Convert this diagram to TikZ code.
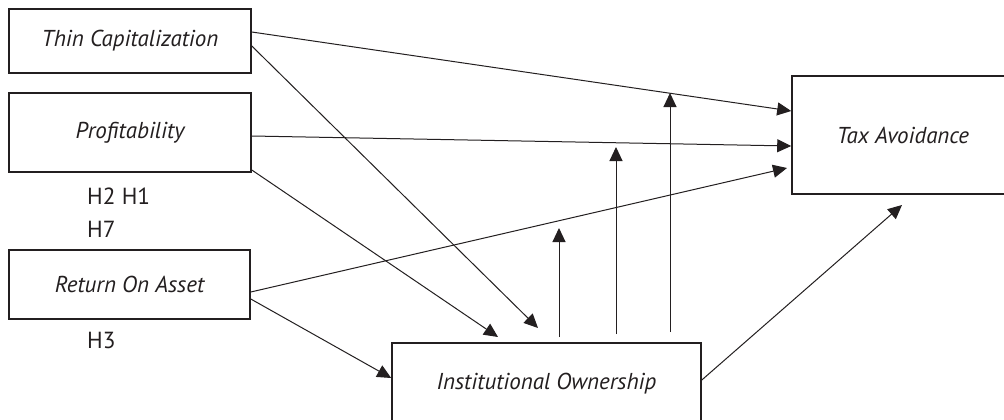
\documentclass[tikz,border=0pt]{standalone}
\usepackage{fontspec}
\setmainfont{PT Sans}
\usetikzlibrary{arrows.meta,calc}
\definecolor{ink}{HTML}{231F20}
\tikzset{
  box/.style={draw=ink, line width=1.6pt, rectangle, inner sep=0pt, text=ink,
    font=\fontsize{23}{27}\selectfont\itshape},
  conn/.style={draw=ink, line width=1pt, -{Triangle[length=14pt,width=13pt]}},
  hlab/.style={anchor=base west, inner sep=0pt, text=ink, font=\fontsize{23.3}{28}\selectfont}
}
\begin{document}
\begin{tikzpicture}[x=1pt,y=-1pt]
\useasboundingbox (0,0) rectangle (1004,420);
\fill[white] (0,0) rectangle (1004,420);
\node[box, minimum width=242pt, minimum height=64pt] (tc) at (130,41) {Thin Capitalization};
\node[box, minimum width=242pt, minimum height=79pt] (pr) at (130,132.5) {Profitability};
\node[box, minimum width=241pt, minimum height=69pt] (roa) at (129.5,284.5) {Return On Asset};
\node[box, minimum width=309pt, minimum height=82pt] (io) at (546.5,384) {Institutional Ownership};
\node[box, minimum width=222pt, minimum height=118pt] (ta) at (903,135) {Tax Avoidance};
\node[hlab] (h21) at (87,204) {H2 H1};
\node[hlab] (h7) at (87,237) {H7};
\node[hlab] (h3) at (87,348) {H3};
% moderation arrow ends
\coordinate (m1s) at (559,337); \coordinate (m1e) at (559,228);
\coordinate (m2s) at (616,334); \coordinate (m2e) at (616,147);
\coordinate (m3s) at (670,332); \coordinate (m3e) at (670,93);
\coordinate (ioend) at (902,205);
\coordinate (roaend) at (787,168);
\coordinate (tcio) at (538,328);
\coordinate (prio) at (498,337);
\draw[conn] ([yshift=9pt]tc.east) -- ([yshift=24pt]ta.west);
\draw[conn] ([yshift=-5pt]tc.east) -- (tcio);
\draw[conn] ([yshift=-3.5pt]pr.east) -- ([yshift=-11pt]ta.west);
\draw[conn] ([yshift=-37.5pt]pr.east) -- (prio);
\draw[conn] ([yshift=-7.5pt]roa.east) -- (roaend);
\draw[conn] ([yshift=-14.5pt]roa.east) -- ([yshift=6pt]io.west);
\draw[conn] (m1s) -- (m1e);
\draw[conn] (m2s) -- (m2e);
\draw[conn] (m3s) -- (m3e);
\draw[conn] ([yshift=4pt]io.east) -- (ioend);
\end{tikzpicture}
\end{document}
